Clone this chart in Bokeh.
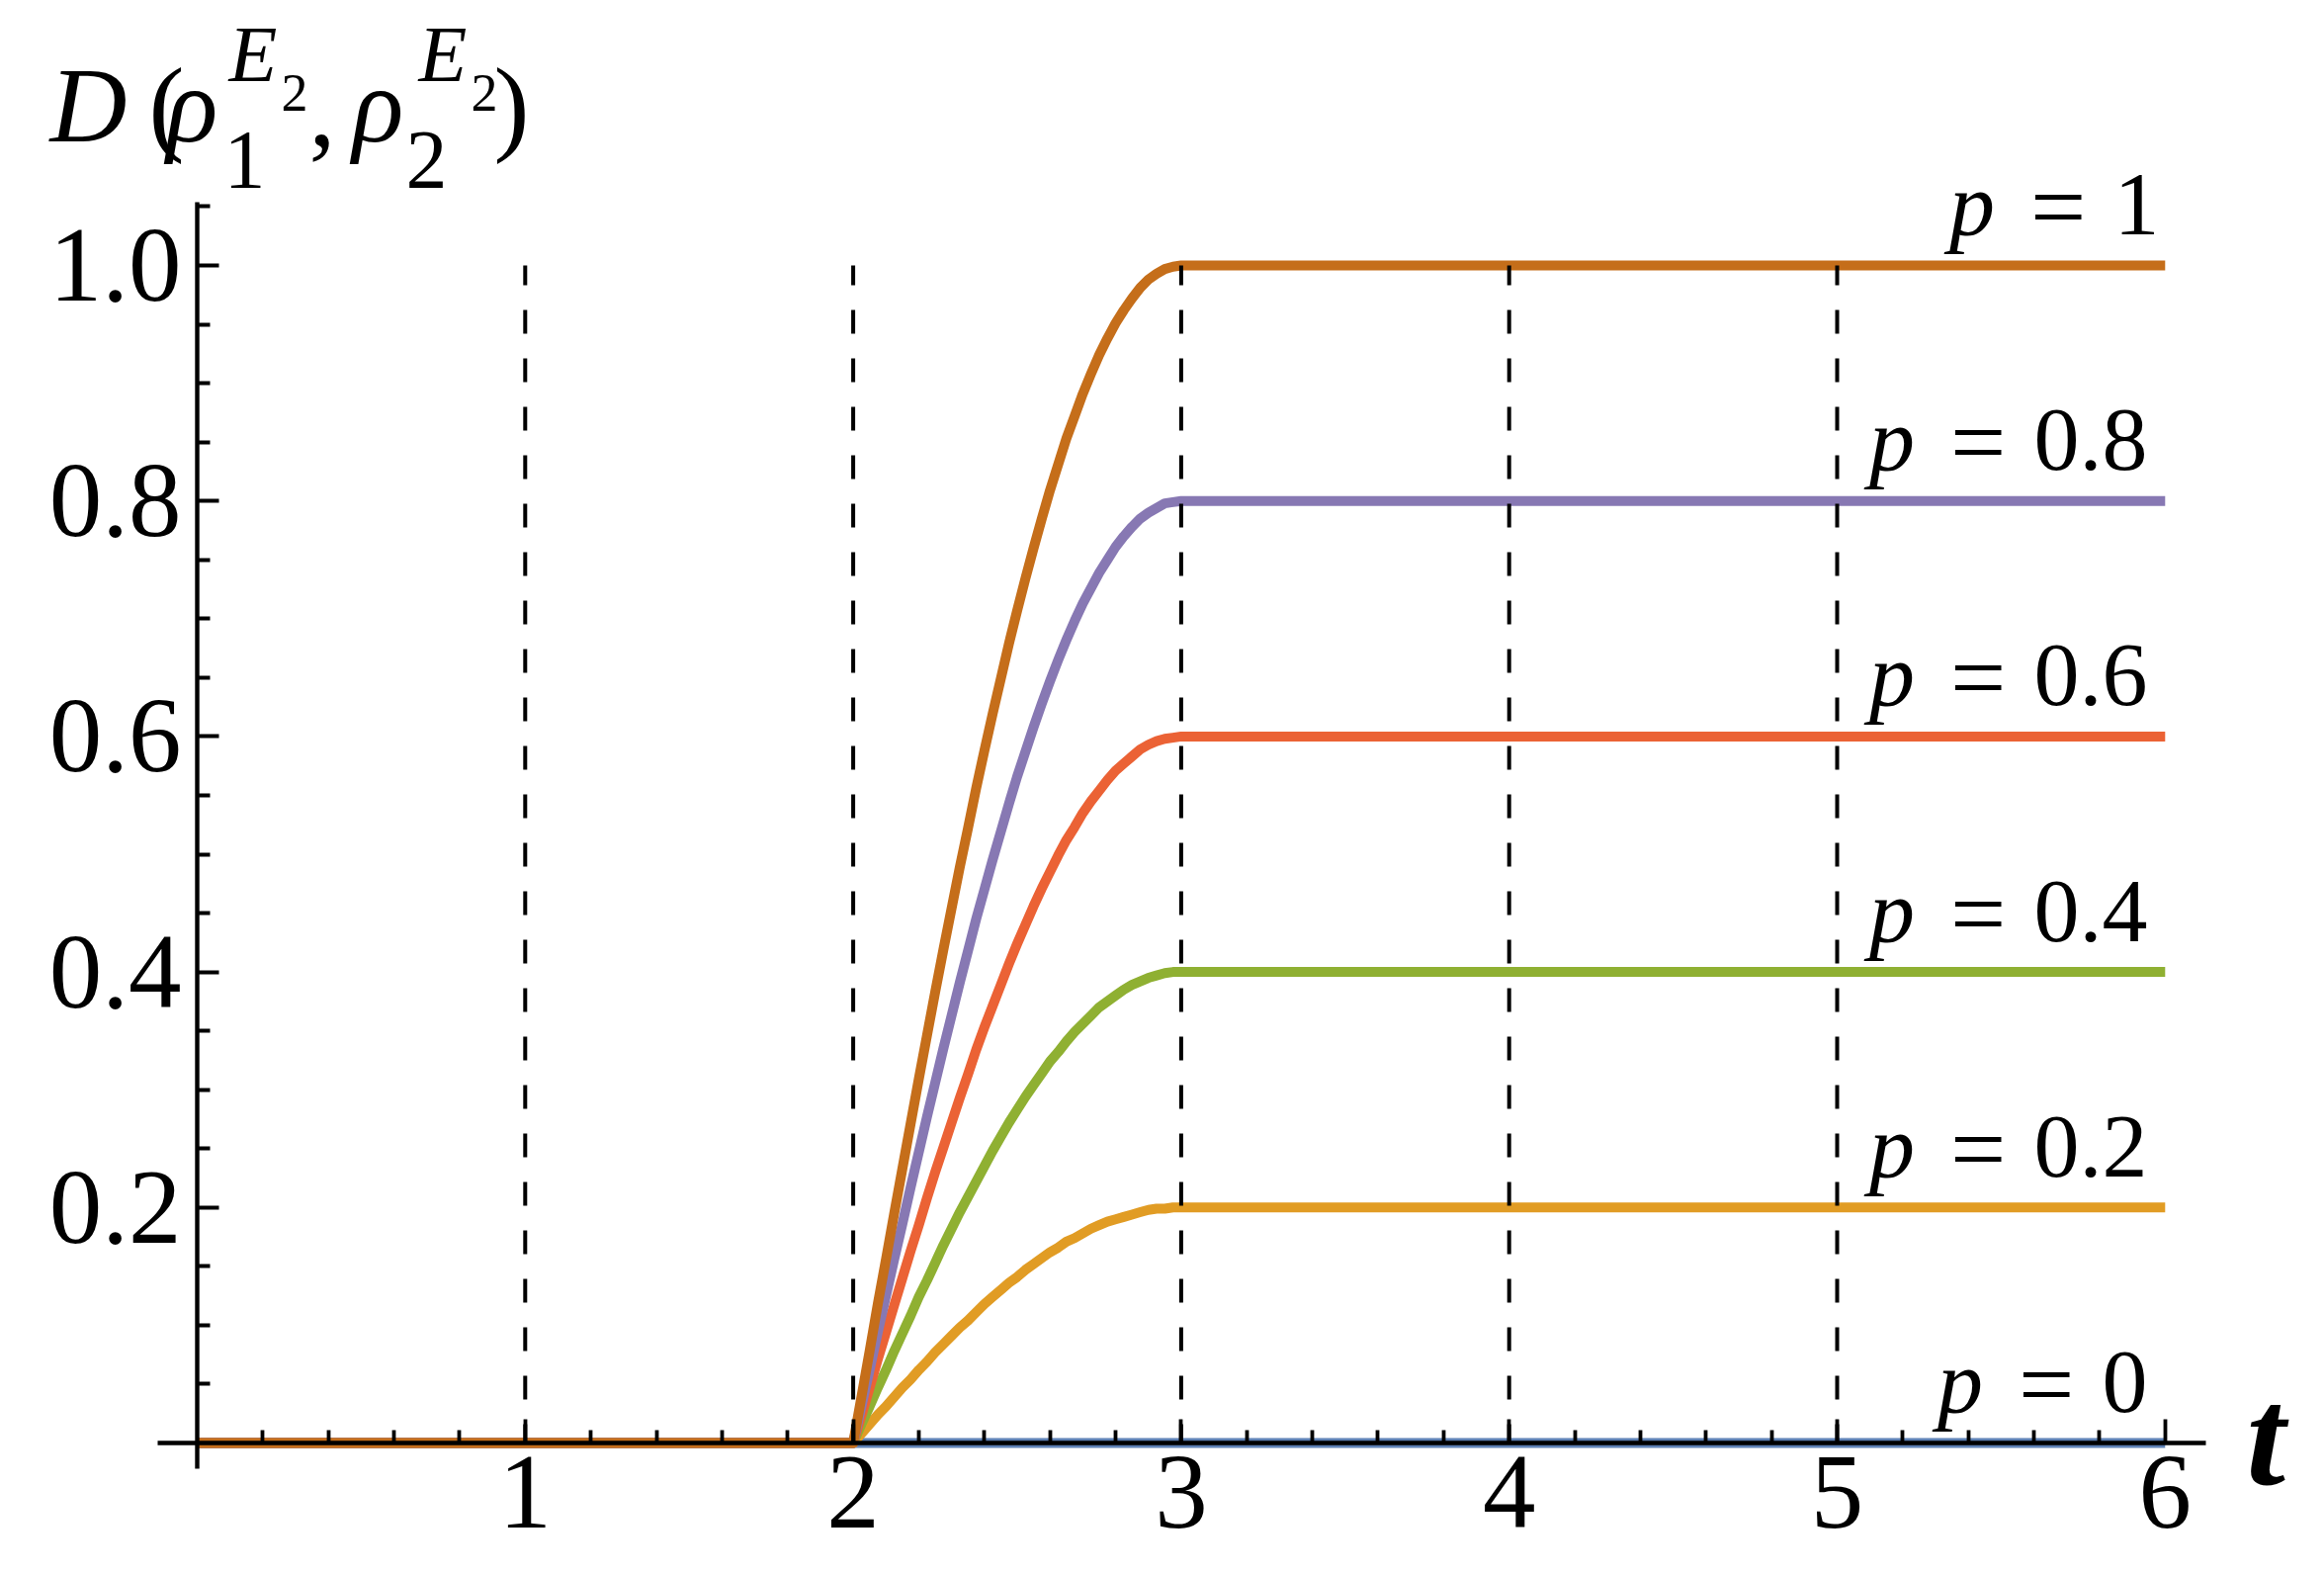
from bokeh.plotting import figure
from bokeh.models import Range1d, LinearAxis, FixedTicker, PrintfTickFormatter, Label
from bokeh.embed import file_html
from bokeh.resources import INLINE

# ---------------- data ----------------
t_p0 = [0.0, 6.0]
d_p0 = [0.0, 0.0]

t_rise = [0.000, 2.000, 2.025, 2.050, 2.075, 2.100, 2.125, 2.150, 2.175, 2.200, 2.225,
          2.250, 2.275, 2.300, 2.325, 2.350, 2.375, 2.400, 2.425, 2.450, 2.475,
          2.500, 2.525, 2.550, 2.575, 2.600, 2.625, 2.650, 2.675, 2.700, 2.725,
          2.750, 2.775, 2.800, 2.825, 2.850, 2.875, 2.900, 2.925, 2.950, 2.975,
          3.000, 6.000]

d_p0_2 = [0, 0, .008, .016, .024, .031, .039, .047, .054, .062, .069,
          .077, .084, .091, .098, .104, .111, .118, .124, .130, .136,
          .141, .147, .152, .157, .162, .166, .171, .174, .178, .182,
          .185, .188, .190, .192, .194, .196, .198, .199, .199, .200,
          .200, .200]
d_p0_4 = [0, 0, .016, .031, .047, .062, .078, .093, .108, .124, .138,
          .153, .168, .182, .196, .209, .222, .235, .248, .260, .272,
          .283, .294, .304, .314, .324, .332, .341, .349, .356, .363,
          .370, .375, .380, .385, .389, .392, .395, .397, .399, .400,
          .400, .400]
d_p0_6 = [0, 0, .023, .047, .071, .094, .117, .140, .163, .185, .208,
          .230, .251, .272, .293, .313, .334, .353, .371, .389, .407,
          .424, .440, .456, .471, .485, .499, .512, .523, .535, .545,
          .554, .563, .571, .577, .583, .589, .593, .596, .598, .599,
          .600, .600]
d_p0_8 = [0, 0, .031, .062, .094, .125, .156, .186, .217, .247, .277,
          .306, .335, .363, .391, .418, .445, .470, .495, .519, .543,
          .566, .587, .608, .628, .647, .665, .682, .698, .713, .726,
          .739, .750, .761, .770, .778, .785, .790, .794, .798, .799,
          .800, .800]
d_p1 = [0, 0, .039, .078, .118, .156, .195, .233, .271, .309, .346,
        .383, .419, .454, .489, .522, .556, .588, .619, .649, .679,
        .707, .734, .760, .785, .809, .831, .853, .872, .891, .908,
        .924, .938, .951, .962, .972, .981, .988, .993, .997, .999,
        1.000, 1.000]

series_t = [t_p0, t_rise, t_rise, t_rise, t_rise, t_rise]
series_d = [d_p0, d_p0_2, d_p0_4, d_p0_6, d_p0_8, d_p1]
p_values = [0.0, 0.2, 0.4, 0.6, 0.8, 1.0]
p_labels = ["0", "0.2", "0.4", "0.6", "0.8", "1"]
colors = ["#5E81B5", "#E19C24", "#8FB032", "#EB6235", "#8778B3", "#C56E1A"]

grid_t = [1, 2, 3, 4, 5]
grid_top = 1.0
grid_bottom = 0.0

x_ticks = [1, 2, 3, 4, 5, 6]
x_minor = [round(0.2 * i, 1) for i in range(1, 31) if i % 5]
y_ticks = [0.2, 0.4, 0.6, 0.8, 1.0]
y_minor = [round(0.05 * i, 2) for i in range(1, 22) if i % 4]

# ---------------- layout (pixel mapping of the reference) ----------------
W, H = 2343, 1583
MARGIN = 0
X0, SX = 199.0, 331.8     # pixel of t=0, pixels per unit t
Y0, SY = 1459.0, 1191.0   # pixel of D=0, pixels per unit D


def tx(px):
    return (px - X0) / SX


def vy(py):
    return (Y0 - py) / SY


x_range = Range1d(tx(MARGIN), tx(MARGIN + W))
y_range = Range1d(vy(MARGIN + H), vy(MARGIN))

p = figure(width=W, height=H, x_range=x_range, y_range=y_range,
           x_axis_location=None, y_axis_location=None,
           toolbar_location=None, output_backend="svg", min_border=0)
p.outline_line_color = None
p.background_fill_color = "white"
p.border_fill_color = "white"
p.xgrid.grid_line_color = None
p.ygrid.grid_line_color = None

SERIF = "Liberation Serif"

# curves (p=0 first, p=1 last / on top)
for ts, vals, c in zip(series_t, series_d, colors):
    p.line(ts, vals, line_width=10, line_color=c, line_join="round")

# dashed vertical lines
p.segment(x0=grid_t, y0=[grid_top] * len(grid_t), x1=grid_t, y1=[grid_bottom] * len(grid_t),
          line_color="black", line_width=4, line_dash="24 25", line_dash_offset=4)

# axes crossing at origin
xaxis = LinearAxis(fixed_location=0, bounds=(tx(159), tx(2231)),
                   ticker=FixedTicker(ticks=x_ticks, minor_ticks=x_minor))
yaxis = LinearAxis(fixed_location=0, bounds=(vy(1485), vy(204)),
                   ticker=FixedTicker(ticks=y_ticks, minor_ticks=y_minor),
                   formatter=PrintfTickFormatter(format="%.1f"))
for ax, mj, mn in ((xaxis, 24, 13), (yaxis, 22, 13)):
    ax.axis_line_width = 4.4
    ax.axis_line_color = "black"
    ax.major_tick_in = mj
    ax.major_tick_out = 0
    ax.minor_tick_in = mn
    ax.minor_tick_out = 0
    ax.major_tick_line_width = 3.8
    ax.minor_tick_line_width = 3.8
    ax.major_tick_line_color = "black"
    ax.minor_tick_line_color = "black"
    ax.major_label_text_font = SERIF
    ax.major_label_text_font_size = "107px"
    ax.major_label_text_color = "black"
xaxis.major_label_standoff = 14
yaxis.major_label_standoff = 16
p.add_layout(xaxis, "below")
p.add_layout(yaxis, "left")

# ---------------- annotations ----------------
BASE_FIX = 0.3   # observed baseline drop of Label text, in em


def add_text(txt, px, py, size, style="normal", align="left"):
    p.add_layout(Label(x=tx(px), y=vy(py - BASE_FIX * size), text=txt, text_font=SERIF,
                       text_font_size=f"{size}px", text_font_style=style,
                       text_color="black", text_align=align,
                       text_baseline="alphabetic"))


# curve labels "p = value"
ADV = {"0": 0.5, "1": 0.5, "2": 0.5, "4": 0.5, "6": 0.5, "8": 0.5, ".": 0.25}
FS = 92          # value / p size
FS_EQ = 100      # '=' size
RIGHT_PX = 2172
LABEL_DX = {"1": 12}
for val, s in zip(p_values, p_labels):
    base_py = Y0 - val * SY - 34
    right = RIGHT_PX + LABEL_DX.get(s, 0)
    w_val = sum(ADV[ch] for ch in s) * FS
    add_text(s, right, base_py, FS, align="right")
    eq_right = right - w_val - 28
    add_text("=", eq_right, base_py + 5, FS_EQ, align="right")
    p_right = eq_right - 0.564 * FS_EQ - 36
    add_text("p", p_right, base_py, FS, style="italic", align="right")

# axis label t
add_text("t", 2272, 1495, 142, style="bold italic")

# y label  D(rho_1^{E_2}, rho_2^{E_2})
add_text("D", 50, 138, 108, style="italic")
add_text("(", 150, 138, 108)
add_text("\u03c1", 168, 138, 108, style="italic")
add_text("1", 226, 187, 84)
add_text("E", 231, 78, 80, style="italic")
add_text("2", 284, 110, 54)
add_text(",", 312, 143, 108)
add_text("\u03c1", 356, 138, 108, style="italic")
add_text("2", 410, 187, 84)
add_text("E", 423, 78, 80, style="italic")
add_text("2", 476, 110, 54)
add_text(")", 499, 138, 108)

open("out.html", "w").write(file_html(p, INLINE))
